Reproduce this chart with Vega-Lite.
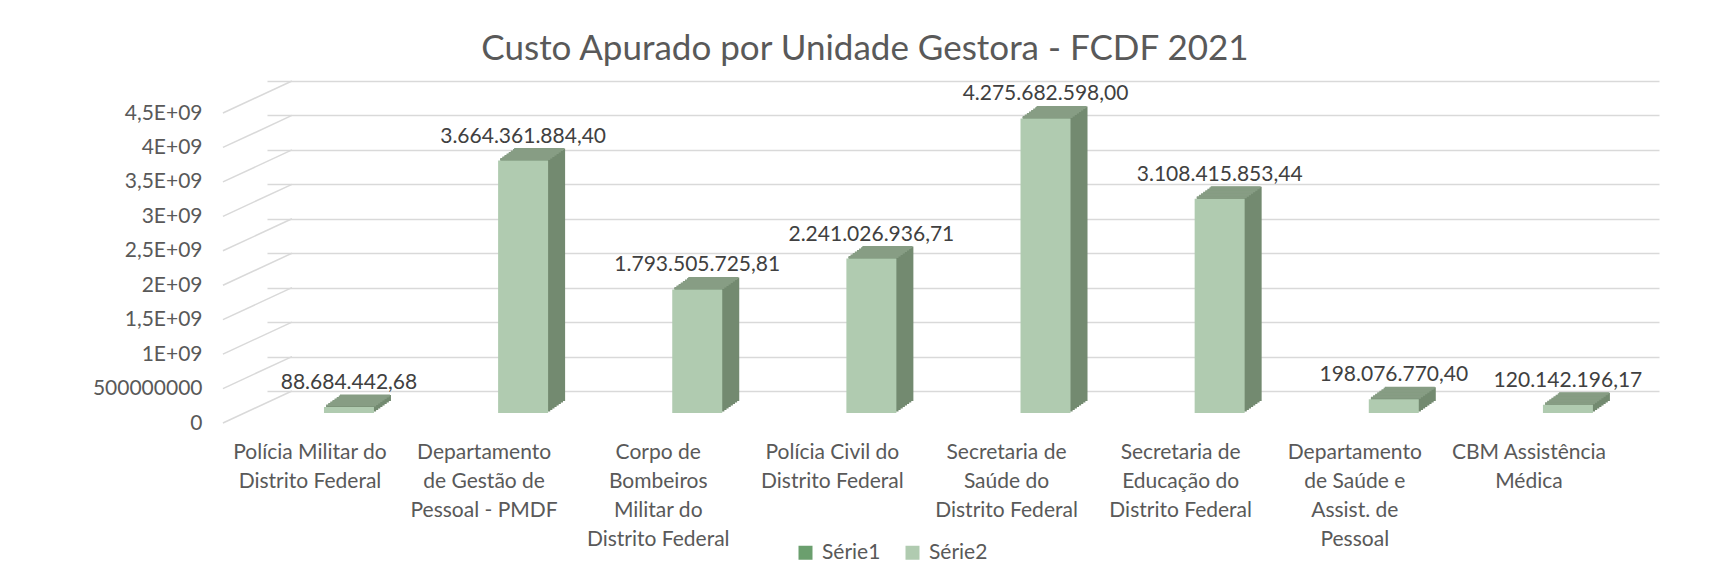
{
  "$schema": "https://vega.github.io/schema/vega-lite/v6.json",
  "width": 1392,
  "height": 310,
  "autosize": {"type": "none"},
  "padding": {"left": 267, "top": 81, "right": 74, "bottom": 196},
  "background": "white",
  "title": {
    "text": "Custo Apurado por Unidade Gestora - FCDF 2021",
    "font": "Lato", "fontSize": 35, "fontWeight": "normal", "color": "#595959",
    "anchor": "middle", "frame": "group", "dx": -98, "baseline": "alphabetic", "offset": -15
  },
  "datasets": {
    "custos": [
      {"unidade": "Polícia Militar do Distrito Federal", "serie": "Série2", "valor": 88684442.68},
      {"unidade": "Departamento de Gestão de Pessoal - PMDF", "serie": "Série2", "valor": 3664361884.40},
      {"unidade": "Corpo de Bombeiros Militar do Distrito Federal", "serie": "Série2", "valor": 1793505725.81},
      {"unidade": "Polícia Civil do Distrito Federal", "serie": "Série2", "valor": 2241026936.71},
      {"unidade": "Secretaria de Saúde do Distrito Federal", "serie": "Série2", "valor": 4275682598.00},
      {"unidade": "Secretaria de Educação do Distrito Federal", "serie": "Série2", "valor": 3108415853.44},
      {"unidade": "Departamento de Saúde e Assist. de Pessoal", "serie": "Série2", "valor": 198076770.40},
      {"unidade": "CBM Assistência Médica", "serie": "Série2", "valor": 120142196.17}
    ],
    "marcas": [
      {"valor": 0}, {"valor": 500000000}, {"valor": 1000000000}, {"valor": 1500000000}, {"valor": 2000000000},
      {"valor": 2500000000}, {"valor": 3000000000}, {"valor": 3500000000}, {"valor": 4000000000}, {"valor": 4500000000}
    ]
  },
  "data": {"name": "custos"},
  "encoding": {
    "x": {
      "field": "unidade", "type": "nominal", "sort": null, "title": null,
      "scale": {"paddingInner": 0.7129, "paddingOuter": 0.3533, "align": 0.463},
      "axis": {
        "labelExpr": "datum.value == 'Polícia Militar do Distrito Federal' ? ['Polícia Militar do', 'Distrito Federal'] : datum.value == 'Departamento de Gestão de Pessoal - PMDF' ? ['Departamento', 'de Gestão de', 'Pessoal - PMDF'] : datum.value == 'Corpo de Bombeiros Militar do Distrito Federal' ? ['Corpo de', 'Bombeiros', 'Militar do', 'Distrito Federal'] : datum.value == 'Polícia Civil do Distrito Federal' ? ['Polícia Civil do', 'Distrito Federal'] : datum.value == 'Secretaria de Saúde do Distrito Federal' ? ['Secretaria de', 'Saúde do', 'Distrito Federal'] : datum.value == 'Secretaria de Educação do Distrito Federal' ? ['Secretaria de', 'Educação do', 'Distrito Federal'] : datum.value == 'Departamento de Saúde e Assist. de Pessoal' ? ['Departamento', 'de Saúde e', 'Assist. de', 'Pessoal'] : ['CBM Assistência', 'Médica']"
      }
    },
    "y": {
      "field": "valor", "type": "quantitative", "title": null,
      "scale": {"domain": [0, 4500000000], "nice": false},
      "axis": {
        "values": [0, 500000000, 1000000000, 1500000000, 2000000000, 2500000000, 3000000000, 3500000000, 4000000000, 4500000000],
        "labelExpr": "datum.value == 0 ? '0' : datum.value == 500000000 ? '500000000' : replace(toString(datum.value / 1000000000), '.', ',') + 'E+09'"
      }
    }
  },
  "layer": [
    {
      "data": {"name": "marcas"},
      "mark": {"type": "rule", "color": "#d9d9d9", "strokeWidth": 1.5, "xOffset": -101, "x2Offset": -57, "yOffset": 32},
      "encoding": {
        "x": {"datum": "Polícia Militar do Distrito Federal", "bandPosition": 0, "title": null},
        "x2": {"datum": "Polícia Militar do Distrito Federal"},
        "y": {"field": "valor", "type": "quantitative", "title": null},
        "y2": {"field": "valor"}
      }
    },
    {"mark": {"type": "bar", "color": "#738a70", "xOffset": 2.125, "yOffset": 20.5, "y2Offset": 20.5}, "encoding": {"y2": {"datum": 0}}},
    {"mark": {"type": "bar", "color": "#738a70", "xOffset": 4.25, "yOffset": 19, "y2Offset": 19}, "encoding": {"y2": {"datum": 0}}},
    {"mark": {"type": "bar", "color": "#738a70", "xOffset": 6.375, "yOffset": 17.5, "y2Offset": 17.5}, "encoding": {"y2": {"datum": 0}}},
    {"mark": {"type": "bar", "color": "#738a70", "xOffset": 8.5, "yOffset": 16, "y2Offset": 16}, "encoding": {"y2": {"datum": 0}}},
    {"mark": {"type": "bar", "color": "#738a70", "xOffset": 10.625, "yOffset": 14.5, "y2Offset": 14.5}, "encoding": {"y2": {"datum": 0}}},
    {"mark": {"type": "bar", "color": "#738a70", "xOffset": 12.75, "yOffset": 13, "y2Offset": 13}, "encoding": {"y2": {"datum": 0}}},
    {"mark": {"type": "bar", "color": "#738a70", "xOffset": 14.875, "yOffset": 11.5, "y2Offset": 11.5}, "encoding": {"y2": {"datum": 0}}},
    {"mark": {"type": "bar", "color": "#738a70", "xOffset": 17, "yOffset": 10, "y2Offset": 10}, "encoding": {"y2": {"datum": 0}}},
    {"mark": {"type": "bar", "fill": "#879d84", "stroke": "#879d84", "strokeWidth": 2, "xOffset": 2.125, "yOffset": 20.5, "y2Offset": 20.5}, "encoding": {"y2": {"field": "valor"}}},
    {"mark": {"type": "bar", "fill": "#879d84", "stroke": "#879d84", "strokeWidth": 2, "xOffset": 4.25, "yOffset": 19, "y2Offset": 19}, "encoding": {"y2": {"field": "valor"}}},
    {"mark": {"type": "bar", "fill": "#879d84", "stroke": "#879d84", "strokeWidth": 2, "xOffset": 6.375, "yOffset": 17.5, "y2Offset": 17.5}, "encoding": {"y2": {"field": "valor"}}},
    {"mark": {"type": "bar", "fill": "#879d84", "stroke": "#879d84", "strokeWidth": 2, "xOffset": 8.5, "yOffset": 16, "y2Offset": 16}, "encoding": {"y2": {"field": "valor"}}},
    {"mark": {"type": "bar", "fill": "#879d84", "stroke": "#879d84", "strokeWidth": 2, "xOffset": 10.625, "yOffset": 14.5, "y2Offset": 14.5}, "encoding": {"y2": {"field": "valor"}}},
    {"mark": {"type": "bar", "fill": "#879d84", "stroke": "#879d84", "strokeWidth": 2, "xOffset": 12.75, "yOffset": 13, "y2Offset": 13}, "encoding": {"y2": {"field": "valor"}}},
    {"mark": {"type": "bar", "fill": "#879d84", "stroke": "#879d84", "strokeWidth": 2, "xOffset": 14.875, "yOffset": 11.5, "y2Offset": 11.5}, "encoding": {"y2": {"field": "valor"}}},
    {"mark": {"type": "bar", "fill": "#879d84", "stroke": "#879d84", "strokeWidth": 2, "xOffset": 16, "yOffset": 10.5, "y2Offset": 10.5}, "encoding": {"y2": {"field": "valor"}}},
    {
      "mark": {"type": "bar", "yOffset": 22, "y2Offset": 22},
      "encoding": {
        "y2": {"datum": 0},
        "color": {
          "field": "serie", "type": "nominal",
          "scale": {"domain": ["Série1", "Série2"], "range": ["#6b9f6e", "#b0cbb0"]},
          "legend": {
            "orient": "none", "legendX": 528, "legendY": 461, "direction": "horizontal", "title": null,
            "symbolType": "square", "symbolSize": 196, "symbolStrokeWidth": 0, "symbolOpacity": 1,
            "labelFont": "Lato", "labelFontSize": 21, "labelColor": "#595959",
            "columnPadding": 21, "labelOffset": 6, "padding": 0
          }
        }
      }
    },
    {
      "mark": {"type": "text", "font": "Lato", "fontSize": 21, "color": "#404040", "baseline": "alphabetic", "yOffset": 4},
      "encoding": {"text": {"field": "valor", "type": "quantitative", "format": ",.2f"}}
    }
  ],
  "config": {
    "font": "Lato",
    "locale": {"number": {"decimal": ",", "thousands": ".", "grouping": [3], "currency": ["R$", ""]}},
    "view": {"stroke": null},
    "axisX": {
      "domain": false, "ticks": false, "tickSize": 0, "grid": false, "labelAngle": 0,
      "labelFont": "Lato", "labelFontSize": 21, "labelColor": "#595959", "labelLineHeight": 29,
      "labelPadding": 50, "labelOffset": -39, "labelLimit": 0, "labelOverlap": false, "labelBound": false
    },
    "axisY": {
      "domain": false, "ticks": false, "tickSize": 0, "grid": true, "gridColor": "#d9d9d9", "gridWidth": 1.5,
      "labelFont": "Lato", "labelFontSize": 21, "labelColor": "#595959",
      "labelPadding": 65, "labelOffset": 32, "labelOverlap": false, "labelBound": false, "labelFlush": false
    }
  }
}
